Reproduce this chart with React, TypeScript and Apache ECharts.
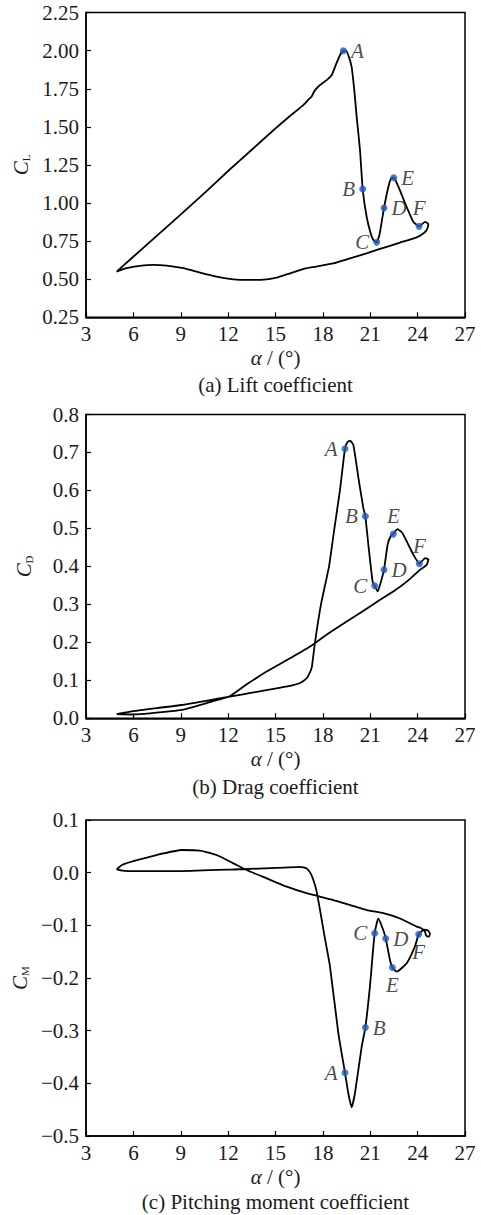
import React, { useEffect, useRef } from "react";
import * as echarts from "echarts";

const FONT = "Liberation Serif, Times New Roman, serif";
const FS = 21;

const xMin = 3;
const xMax = 27;
const xStep = 3;

// (a) Lift coefficient loop: [alpha, CL]
const liftCurve: [number, number][] = [
  [4.94, 0.55], [7.0, 0.74], [9.06, 0.93], [10.6, 1.075], [12.1, 1.22], [13.5, 1.35], [15.0, 1.49],
  [15.9, 1.57], [16.76, 1.643], [17.1, 1.68], [17.29, 1.7], [17.5, 1.741], [17.82, 1.775],
  [18.24, 1.807], [18.56, 1.84], [18.77, 1.894], [19.08, 1.97], [19.3, 2.0], [19.45, 2.0],
  [19.61, 1.97], [19.82, 1.894], [20.0, 1.73], [20.14, 1.566], [20.35, 1.35], [20.52, 1.092],
  [20.77, 0.91], [21.03, 0.8], [21.2, 0.757], [21.41, 0.742], [21.58, 0.79], [21.87, 0.967],
  [22.15, 1.107], [22.32, 1.162], [22.49, 1.166], [22.78, 1.107], [23.3, 0.976], [23.73, 0.877],
  [24.09, 0.847], [24.47, 0.877], [24.68, 0.862], [24.57, 0.823], [24.36, 0.8], [23.94, 0.775],
  [22.88, 0.74], [21.41, 0.692], [20.77, 0.67], [19.72, 0.637], [18.66, 0.604], [16.97, 0.572],
  [15.92, 0.539], [15.07, 0.51], [14.44, 0.499], [13.39, 0.495], [12.33, 0.499], [11.27, 0.517],
  [10.22, 0.543], [9.16, 0.572], [8.11, 0.589], [7.26, 0.594], [6.42, 0.587], [5.58, 0.572],
  [4.94, 0.55],
];
const liftPoints: [string, number, number][] = [
  ["A", 19.3, 2.0], ["B", 20.52, 1.092], ["C", 21.41, 0.742],
  ["D", 21.87, 0.967], ["E", 22.49, 1.166], ["F", 24.09, 0.847],
];

// (b) Drag coefficient loop: [alpha, CD]
const dragCurve: [number, number][] = [
  [4.94, 0.011], [6.0, 0.019], [7.5, 0.027], [9.06, 0.035], [10.6, 0.046], [12.1, 0.057],
  [13.6, 0.068], [15.07, 0.079], [16.0, 0.086], [16.55, 0.093], [16.97, 0.105], [17.15, 0.118],
  [17.3, 0.135], [17.5, 0.2], [17.88, 0.3], [18.39, 0.4], [18.73, 0.5], [19.08, 0.6],
  [19.4, 0.71], [19.55, 0.727], [19.72, 0.731], [19.93, 0.72], [20.25, 0.633],
  [20.56, 0.554], [20.69, 0.532], [20.88, 0.457], [21.15, 0.36], [21.28, 0.349], [21.47, 0.334],
  [21.62, 0.352], [21.87, 0.391], [22.1, 0.457], [22.3, 0.48], [22.46, 0.485], [22.71, 0.498],
  [23.0, 0.49], [23.31, 0.466], [23.73, 0.431], [24.11, 0.407], [24.47, 0.422], [24.68, 0.418],
  [24.57, 0.404], [24.15, 0.391], [23.31, 0.36], [22.5, 0.335], [21.62, 0.312], [20.5, 0.281],
  [19.51, 0.255], [18.3, 0.222], [17.19, 0.189], [15.92, 0.158], [14.44, 0.123], [13.2, 0.09],
  [12.1, 0.058], [10.64, 0.04], [9.06, 0.022], [7.05, 0.013], [6.0, 0.01], [4.94, 0.011],
];
const dragPoints: [string, number, number][] = [
  ["A", 19.4, 0.71], ["B", 20.69, 0.532], ["C", 21.28, 0.349],
  ["D", 21.87, 0.391], ["E", 22.46, 0.485], ["F", 24.11, 0.407],
];

// (c) Pitching moment coefficient loop: [alpha, CM]
const momentCurve: [number, number][] = [
  [4.94, 0.0063], [5.3, 0.004], [6.0, 0.003], [9.06, 0.003], [12.33, 0.006], [15.5, 0.0095],
  [16.55, 0.011], [16.97, 0.008], [17.2, 0.0], [17.4, -0.014], [17.6, -0.035], [17.82, -0.071],
  [18.1, -0.12], [18.45, -0.178], [18.98, -0.305], [19.4, -0.38], [19.61, -0.419],
  [19.82, -0.4456], [20.03, -0.419], [20.46, -0.33], [20.69, -0.294], [20.98, -0.216],
  [21.28, -0.115], [21.51, -0.087], [21.79, -0.106], [21.98, -0.125], [22.25, -0.166],
  [22.4, -0.18], [22.67, -0.188], [23.31, -0.172], [23.83, -0.14], [24.07, -0.117],
  [24.4, -0.108], [24.65, -0.11], [24.78, -0.116], [24.7, -0.122], [24.55, -0.12],
  [24.45, -0.111], [24.2, -0.105], [23.94, -0.1025], [22.88, -0.087], [21.83, -0.077],
  [20.77, -0.071], [18.66, -0.052], [16.97, -0.039], [15.71, -0.0266], [14.44, -0.0108],
  [13.17, 0.005], [12.33, 0.0177], [11.27, 0.0335], [10.22, 0.0418], [9.06, 0.043],
  [7.47, 0.0335], [6.0, 0.022], [5.3, 0.015], [4.94, 0.0063],
];
const momentPoints: [string, number, number][] = [
  ["A", 19.4, -0.38], ["B", 20.69, -0.294], ["C", 21.28, -0.115],
  ["D", 21.98, -0.125], ["E", 22.4, -0.18], ["F", 24.07, -0.117],
];

const captions = ["(a) Lift coefficient", "(b) Drag coefficient", "(c) Pitching moment coefficient"];
const yNames = [["C", "L"], ["C", "D"], ["C", "M"]];

const labelPos: Record<string, string>[] = [
  { A: "right", B: "left", C: "left", D: "right", E: "right", F: "top" },
  { A: "left", B: "left", C: "left", D: "right", E: "top", F: "top" },
  { A: "left", B: "right", C: "left", D: "right", E: "bottom", F: "bottom" },
];

const grids = [
  { left: 86, top: 12.6, width: 379, height: 304.7 },
  { left: 86, top: 414.5, width: 379, height: 303.8 },
  { left: 86, top: 820, width: 379, height: 316 },
];
const yRanges = [
  { min: 0.25, max: 2.25, interval: 0.25, dec: 2 },
  { min: 0, max: 0.8, interval: 0.1, dec: 1 },
  { min: -0.5, max: 0.1, interval: 0.1, dec: 1 },
];
const captionY = [385, 787, 1202];

export default function App() {
  const ref = useRef<HTMLDivElement>(null);
  useEffect(() => {
    if (!ref.current) return;
    const chart = echarts.init(ref.current, undefined, { renderer: "svg" });
    const curves = [liftCurve, dragCurve, momentCurve];
    const points = [liftPoints, dragPoints, momentPoints];

    const xAxis = grids.map((_, i) => ({
      type: "value",
      gridIndex: i,
      min: xMin,
      max: xMax,
      interval: xStep,
      name: "{i|α} / (°)",
      nameLocation: "middle",
      nameGap: 30,
      nameTextStyle: {
        fontFamily: FONT,
        fontSize: FS,
        color: "#1a1a1a",
        rich: { i: { fontFamily: FONT, fontSize: FS, fontStyle: "italic", color: "#1a1a1a" } },
      },
      axisLine: { show: true, onZero: false, lineStyle: { color: "#000", width: 1.5 } },
      axisTick: { show: true, inside: true, length: 5, lineStyle: { color: "#000", width: 1.2 } },
      axisLabel: { margin: 6, fontFamily: FONT, fontSize: FS, color: "#1a1a1a" },
      splitLine: { show: false },
    }));

    const yAxis = grids.map((_, i) => ({
      type: "value",
      gridIndex: i,
      min: yRanges[i].min,
      max: yRanges[i].max,
      interval: yRanges[i].interval,
      name: `{c|${yNames[i][0]}}{s|${yNames[i][1]}}`,
      nameLocation: "middle",
      nameRotate: 90,
      nameGap: 52,
      nameTextStyle: {
        fontFamily: FONT,
        color: "#1a1a1a",
        rich: {
          c: { fontFamily: FONT, fontSize: FS, fontStyle: "italic", color: "#1a1a1a", lineHeight: 24, verticalAlign: "bottom" },
          s: { fontFamily: FONT, fontSize: 11, color: "#1a1a1a", lineHeight: 24, verticalAlign: "bottom", padding: [8, 0, 0, 0] },
        },
      },
      axisLine: { show: true, onZero: false, lineStyle: { color: "#000", width: 1.5 } },
      axisTick: { show: true, inside: true, length: 5, lineStyle: { color: "#000", width: 1.2 } },
      axisLabel: {
        margin: 7,
        fontFamily: FONT,
        fontSize: FS,
        color: "#1a1a1a",
        formatter: (v: number) => {
          const val = Math.abs(v) < 1e-9 ? 0 : v;
          return val.toFixed(yRanges[i].dec).replace("-", "\u2212");
        },
      },
      splitLine: { show: false },
    }));

    const series: any[] = [];
    curves.forEach((c, i) => {
      series.push({
        type: "line",
        xAxisIndex: i,
        yAxisIndex: i,
        data: c,
        showSymbol: false,
        smooth: 0.15,
        lineStyle: { color: "#000", width: 1.8 },
        z: 2,
      });
      series.push({
        type: "scatter",
        xAxisIndex: i,
        yAxisIndex: i,
        symbolSize: 7,
        itemStyle: { color: "#1f5bbd" },
        z: 5,
        label: {
          show: true,
          formatter: "{b}",
          fontFamily: FONT,
          fontStyle: "italic",
          fontSize: FS,
          color: "#1a1a1a",
          distance: 4,
        },
        data: points[i].map(([n, x, y]) => ({
          name: n,
          value: [x, y],
          label: { position: labelPos[i][n] },
        })),
      });
    });

    chart.setOption({
      animation: false,
      backgroundColor: "#fff",
      grid: grids.map((g) => ({ ...g, show: true, borderColor: "#000", borderWidth: 1.5, backgroundColor: "transparent" })),
      xAxis,
      yAxis,
      series,
      graphic: captions.map((t, i) => ({
        type: "text",
        x: grids[i].left + grids[i].width / 2,
        y: captionY[i],
        style: {
          text: t,
          fontFamily: FONT,
          fontSize: FS,
          fill: "#1a1a1a",
          textAlign: "center",
          textVerticalAlign: "middle",
        },
      })),
    });
    return () => chart.dispose();
  }, []);
  return <div ref={ref} style={{ position: "fixed", left: 0, top: 0, width: 481, height: 1215 }} />;
}
